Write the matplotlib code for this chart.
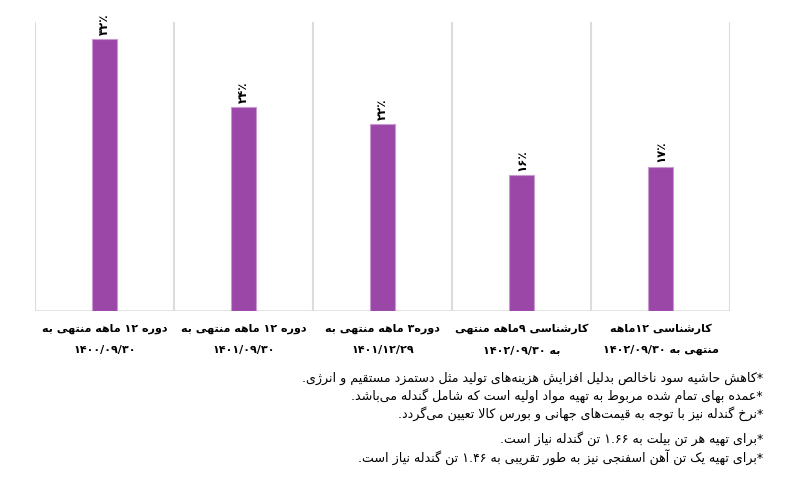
import matplotlib
matplotlib.use("Agg")
import matplotlib.pyplot as plt
from matplotlib.transforms import blended_transform_factory

# ---------------- data ----------------
categories = [
    ["دوره ۱۲ ماهه منتهی به", "۱۴۰۰/۰۹/۳۰"],
    ["دوره ۱۲ ماهه منتهی به", "۱۴۰۱/۰۹/۳۰"],
    ["دوره۳ ماهه منتهی به", "۱۴۰۱/۱۲/۲۹"],
    ["کارشناسی ۹ماهه منتهی", "به ۱۴۰۲/۰۹/۳۰"],
    ["کارشناسی ۱۲ماهه", "منتهی به ۱۴۰۲/۰۹/۳۰"],
]
values = [32, 24, 22, 16, 17]
value_labels = ["۳۲٪", "۲۴٪", "۲۲٪", "۱۶٪", "۱۷٪"]
notes = [
    "*کاهش حاشیه سود ناخالص بدلیل افزایش هزینه\u200cهای تولید مثل دستمزد مستقیم و انرژی.",
    "*عمده بهای تمام شده مربوط به تهیه مواد اولیه است که شامل گندله می\u200cباشد.",
    "*نرخ گندله نیز با توجه به قیمت\u200cهای جهانی و بورس کالا تعیین می\u200cگردد.",
    "*برای تهیه هر تن بیلت به ۱.۶۶ تن گندله نیاز است.",
    "*برای تهیه یک تن آهن اسفنجی نیز به طور تقریبی به ۱.۴۶ تن گندله نیاز است.",
]

# ---------------- Persian shaping (presentation forms) + simple RTL ----------------
FORMS = {  # isolated, final, initial, medial
    'ا': ('\uFE8D', '\uFE8E', None, None),
    'آ': ('\uFE81', '\uFE82', None, None),
    'ب': ('\uFE8F', '\uFE90', '\uFE91', '\uFE92'),
    'پ': ('\uFB56', '\uFB57', '\uFB58', '\uFB59'),
    'ت': ('\uFE95', '\uFE96', '\uFE97', '\uFE98'),
    'ث': ('\uFE99', '\uFE9A', '\uFE9B', '\uFE9C'),
    'ج': ('\uFE9D', '\uFE9E', '\uFE9F', '\uFEA0'),
    'چ': ('\uFB7A', '\uFB7B', '\uFB7C', '\uFB7D'),
    'ح': ('\uFEA1', '\uFEA2', '\uFEA3', '\uFEA4'),
    'خ': ('\uFEA5', '\uFEA6', '\uFEA7', '\uFEA8'),
    'د': ('\uFEA9', '\uFEAA', None, None),
    'ذ': ('\uFEAB', '\uFEAC', None, None),
    'ر': ('\uFEAD', '\uFEAE', None, None),
    'ز': ('\uFEAF', '\uFEB0', None, None),
    'ژ': ('\uFB8A', '\uFB8B', None, None),
    'س': ('\uFEB1', '\uFEB2', '\uFEB3', '\uFEB4'),
    'ش': ('\uFEB5', '\uFEB6', '\uFEB7', '\uFEB8'),
    'ص': ('\uFEB9', '\uFEBA', '\uFEBB', '\uFEBC'),
    'ض': ('\uFEBD', '\uFEBE', '\uFEBF', '\uFEC0'),
    'ط': ('\uFEC1', '\uFEC2', '\uFEC3', '\uFEC4'),
    'ظ': ('\uFEC5', '\uFEC6', '\uFEC7', '\uFEC8'),
    'ع': ('\uFEC9', '\uFECA', '\uFECB', '\uFECC'),
    'غ': ('\uFECD', '\uFECE', '\uFECF', '\uFED0'),
    'ف': ('\uFED1', '\uFED2', '\uFED3', '\uFED4'),
    'ق': ('\uFED5', '\uFED6', '\uFED7', '\uFED8'),
    'ک': ('\uFB8E', '\uFB8F', '\uFB90', '\uFB91'),
    'گ': ('\uFB92', '\uFB93', '\uFB94', '\uFB95'),
    'ل': ('\uFEDD', '\uFEDE', '\uFEDF', '\uFEE0'),
    'م': ('\uFEE1', '\uFEE2', '\uFEE3', '\uFEE4'),
    'ن': ('\uFEE5', '\uFEE6', '\uFEE7', '\uFEE8'),
    'ه': ('\uFEE9', '\uFEEA', '\uFEEB', '\uFEEC'),
    'و': ('\uFEED', '\uFEEE', None, None),
    'ی': ('\uFBFC', '\uFBFD', '\uFBFE', '\uFBFF'),
    'ئ': ('\uFE89', '\uFE8A', '\uFE8B', '\uFE8C'),
}
LAM_ALEF = {'ا': ('\uFEFB', '\uFEFC'), 'آ': ('\uFEF5', '\uFEF6')}


def _dual(c):
    return c in FORMS and FORMS[c][2] is not None


def shape(s):
    out = []
    n = len(s)
    i = 0
    while i < n:
        c = s[i]
        prev = s[i - 1] if i > 0 else ''
        prev_join = _dual(prev)
        if c == 'ل' and i + 1 < n and s[i + 1] in LAM_ALEF:
            iso, fin = LAM_ALEF[s[i + 1]]
            out.append(fin if prev_join else iso)
            i += 2
            continue
        if c in FORMS:
            nxt = s[i + 1] if i + 1 < n else ''
            next_join = _dual(c) and nxt in FORMS
            iso, fin, ini, med = FORMS[c]
            if prev_join and next_join:
                out.append(med)
            elif prev_join:
                out.append(fin)
            elif next_join:
                out.append(ini)
            else:
                out.append(iso)
        elif c != '\u200c':
            out.append(c)
        i += 1
    return ''.join(out)


def _isdigit(c):
    return ('0' <= c <= '9') or ('\u06F0' <= c <= '\u06F9')


def fa(s):
    """Shape Persian text and put it into visual (RTL) order."""
    t = shape(s)
    runs = []
    i = 0
    while i < len(t):
        if _isdigit(t[i]):
            j = i
            while j < len(t) and (_isdigit(t[j]) or (t[j] in './' and j + 1 < len(t) and _isdigit(t[j + 1]))):
                j += 1
            runs.append(t[i:j])
            i = j
        else:
            runs.append(t[i])
            i += 1
    return ''.join(reversed(runs))


# ---------------- plot ----------------
plt.rcParams['font.family'] = ['DejaVu Sans']
W, H = 787, 494
fig = plt.figure(figsize=(W / 100, H / 100), dpi=100)
fig.patch.set_facecolor('white')

ax_left, ax_right, ax_top, ax_bot = 35, 730, 22, 311
ax = fig.add_axes([ax_left / W, 1 - ax_bot / H, (ax_right - ax_left) / W, (ax_bot - ax_top) / H])

x = list(range(len(values)))
bar_color = '#9B47A8'
ax.bar(x, values, width=0.18, color=bar_color, edgecolor='#C99AD2', linewidth=0.8, zorder=3)

ax.set_xlim(-0.5, len(values) - 0.5)
ax.set_ylim(0, 34)
for s in ax.spines.values():
    s.set_visible(False)
ax.set_xticks([])
ax.set_yticks([])

grid_c = '#DCDCDC'
for b in range(len(values) + 1):
    ax.axvline(b - 0.5, color=grid_c, linewidth=1.5, zorder=1)
ax.axhline(0, color=grid_c, linewidth=1.8, zorder=2)

# value labels (rotated)
for xi, v, lab in zip(x, values, value_labels):
    ax.annotate(lab, (xi, v), xytext=(0, 3), textcoords='offset points',
                rotation=90, ha='center', va='bottom', fontsize=8.5,
                fontweight='bold', color='black', annotation_clip=False)

# category labels (two lines)
trans = blended_transform_factory(ax.transData, fig.transFigure)
for xi, (l1, l2) in zip(x, categories):
    ax.text(xi, 1 - 329 / H, fa(l1), transform=trans, ha='center', va='center',
            fontsize=8.0, fontweight='bold', color='black')
    ax.text(xi, 1 - 350 / H, fa(l2), transform=trans, ha='center', va='center',
            fontsize=8.0, fontweight='bold', color='black')

# notes
note_y = [378, 396, 414, 439, 457]
for y, t in zip(note_y, notes):
    fig.text(763 / W, 1 - y / H, fa(t), ha='right', va='center', fontsize=9.1, color='black')

fig.savefig('out.png', dpi=100, facecolor='white')
